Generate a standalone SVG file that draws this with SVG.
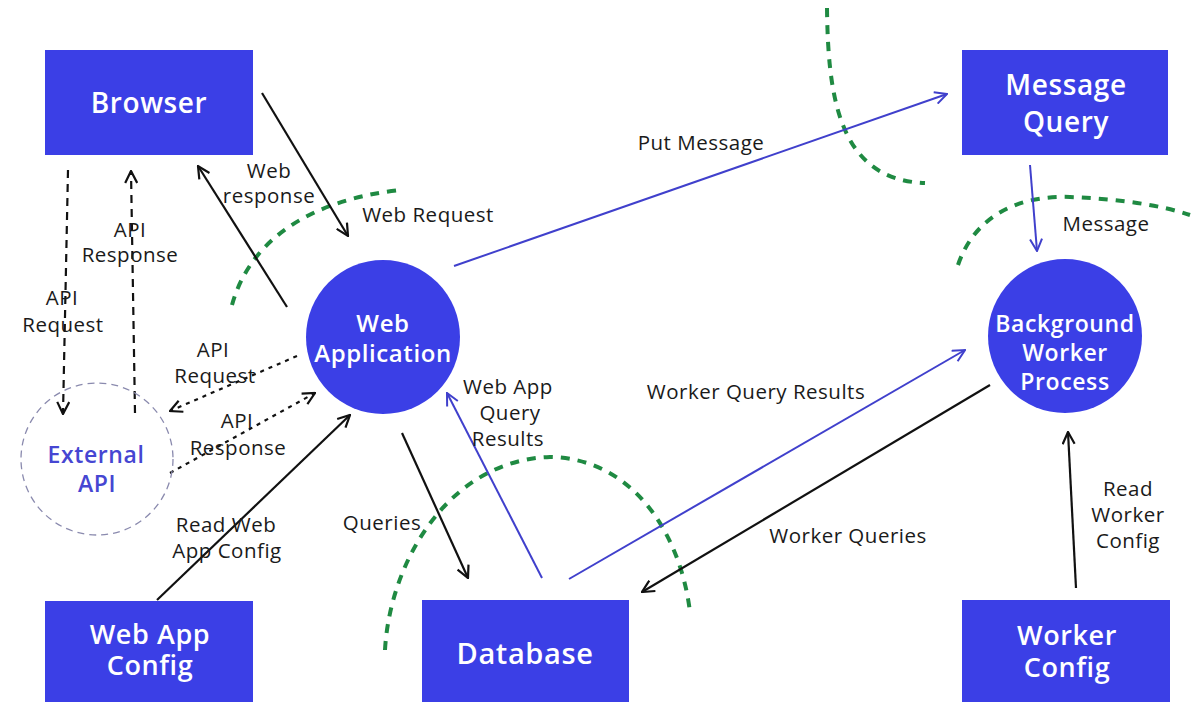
<svg xmlns="http://www.w3.org/2000/svg" width="1196" height="702" viewBox="0 0 1196 702">
  <style>
    .node { fill: #3b3fe6; }
    .nlabel { font-family: "Open Sans", "Liberation Sans", sans-serif; font-weight: 600; fill: #ffffff; text-anchor: middle; letter-spacing: 0.6px; }
    .elabel { font-family: "Open Sans", "Liberation Sans", sans-serif; font-size: 20.5px; fill: #1a1a1a; text-anchor: middle; letter-spacing: 0.5px; }
    .boundary { fill: none; stroke: #1f8a42; stroke-width: 4; stroke-dasharray: 9 8; }
    .black { fill: none; stroke: #111111; stroke-width: 2.2; }
    .blue { fill: none; stroke: #4040cc; stroke-width: 2; }
    .dash { stroke-dasharray: 8 6; }
    .dot { stroke-dasharray: 4 5; }
  </style>
  <defs>
    <marker id="arrowBlack" viewBox="0 0 14 14" refX="13" refY="7" markerWidth="14" markerHeight="14" markerUnits="userSpaceOnUse" orient="auto">
      <path d="M1,1 L13,7 L1,13" fill="none" stroke="#111111" stroke-width="2.2"/>
    </marker>
    <marker id="arrowBlue" viewBox="0 0 14 14" refX="13" refY="7" markerWidth="14" markerHeight="14" markerUnits="userSpaceOnUse" orient="auto">
      <path d="M1,1 L13,7 L1,13" fill="none" stroke="#4040cc" stroke-width="2"/>
    </marker>
  </defs>

  <rect width="1196" height="702" fill="#ffffff"/>

  <!-- trust boundaries -->
  <g id="boundaries">
    <path class="boundary" d="M827,8 C828,100 840,180 925,183"/>
    <path class="boundary" d="M958,265 C975,215 1020,195 1070,197 C1120,199 1160,205 1190,215"/>
    <path class="boundary" d="M232,305 C250,240 310,200 400,190"/>
    <path class="boundary" d="M385,650 C390,560 450,460 550,457 C630,458 680,530 690,612"/>
  </g>

  <!-- connectors -->
  <g id="connectors">
    <line class="black" x1="262" y1="93" x2="348" y2="236" marker-end="url(#arrowBlack)"/>
    <line class="black" x1="287" y1="307" x2="198" y2="166" marker-end="url(#arrowBlack)"/>
    <line class="blue" x1="454" y1="266" x2="947" y2="94" marker-end="url(#arrowBlue)"/>
    <line class="blue" x1="1030" y1="165" x2="1037" y2="251" marker-end="url(#arrowBlue)"/>
    <line class="black dash" x1="68" y1="170" x2="63" y2="414" marker-end="url(#arrowBlack)"/>
    <line class="black dash" x1="135" y1="413" x2="131" y2="171" marker-end="url(#arrowBlack)"/>
    <line class="black dot" x1="297" y1="356" x2="170" y2="411" marker-end="url(#arrowBlack)"/>
    <line class="black dot" x1="170" y1="473" x2="315" y2="393" marker-end="url(#arrowBlack)"/>
    <line class="black" x1="157" y1="600" x2="350" y2="415" marker-end="url(#arrowBlack)"/>
    <line class="black" x1="402" y1="433" x2="468" y2="578" marker-end="url(#arrowBlack)"/>
    <line class="blue" x1="542" y1="578" x2="447" y2="393" marker-end="url(#arrowBlue)"/>
    <line class="blue" x1="569" y1="579" x2="965" y2="350" marker-end="url(#arrowBlue)"/>
    <line class="black" x1="990" y1="385" x2="642" y2="592" marker-end="url(#arrowBlack)"/>
    <line class="black" x1="1076" y1="588" x2="1068" y2="432" marker-end="url(#arrowBlack)"/>
  </g>

  <!-- connector labels -->
  <g id="labels">
    <text class="elabel" x="269" y="178">Web</text>
    <text class="elabel" x="269" y="203">response</text>
    <text class="elabel" x="428" y="222">Web Request</text>
    <text class="elabel" x="701" y="150">Put Message</text>
    <text class="elabel" x="1106" y="231">Message</text>
    <text class="elabel" x="130" y="237">API</text>
    <text class="elabel" x="130" y="262">Response</text>
    <text class="elabel" x="62" y="305">API</text>
    <text class="elabel" x="63" y="332">Request</text>
    <text class="elabel" x="213" y="357">API</text>
    <text class="elabel" x="215" y="383">Request</text>
    <text class="elabel" x="237" y="428">API</text>
    <text class="elabel" x="238" y="455">Response</text>
    <text class="elabel" x="226" y="532">Read Web</text>
    <text class="elabel" x="227" y="558">App Config</text>
    <text class="elabel" x="382" y="530">Queries</text>
    <text class="elabel" x="508" y="394">Web App</text>
    <text class="elabel" x="510" y="420">Query</text>
    <text class="elabel" x="508" y="446">Results</text>
    <text class="elabel" x="756" y="399">Worker Query Results</text>
    <text class="elabel" x="848" y="543">Worker Queries</text>
    <text class="elabel" x="1128" y="496">Read</text>
    <text class="elabel" x="1128" y="522">Worker</text>
    <text class="elabel" x="1128" y="548">Config</text>
  </g>

  <!-- nodes -->
  <g id="browser">
    <rect class="node" x="45" y="50" width="208" height="105"/>
    <text class="nlabel" x="149" y="113" font-size="28" letter-spacing="1.2">Browser</text>
  </g>
  <g id="message-query">
    <rect class="node" x="962" y="50" width="206" height="105"/>
    <text class="nlabel" x="1066" y="95" font-size="28">Message</text>
    <text class="nlabel" x="1066" y="132" font-size="28">Query</text>
  </g>
  <g id="web-application">
    <circle class="node" cx="383" cy="337" r="77"/>
    <text class="nlabel" x="383" y="332" font-size="24">Web</text>
    <text class="nlabel" x="383" y="362" font-size="24">Application</text>
  </g>
  <g id="background-worker">
    <circle class="node" cx="1065" cy="336" r="77"/>
    <text class="nlabel" x="1065" y="332" font-size="23" letter-spacing="1">Background</text>
    <text class="nlabel" x="1065" y="361" font-size="23" letter-spacing="1">Worker</text>
    <text class="nlabel" x="1065" y="390" font-size="23" letter-spacing="1">Process</text>
  </g>
  <g id="external-api">
    <circle cx="97" cy="459" r="76" fill="none" stroke="#8a8aae" stroke-width="1.3" stroke-dasharray="7 5"/>
    <text class="nlabel" x="96" y="463" font-size="23" style="fill:#4646d2">External</text>
    <text class="nlabel" x="97" y="492" font-size="23" style="fill:#4646d2">API</text>
  </g>
  <g id="web-app-config">
    <rect class="node" x="45" y="601" width="208" height="101"/>
    <text class="nlabel" x="150" y="644" font-size="27" letter-spacing="1">Web App</text>
    <text class="nlabel" x="150" y="675" font-size="27" letter-spacing="1">Config</text>
  </g>
  <g id="database">
    <rect class="node" x="422" y="600" width="207" height="102"/>
    <text class="nlabel" x="525" y="664" font-size="29" letter-spacing="1">Database</text>
  </g>
  <g id="worker-config">
    <rect class="node" x="962" y="600" width="208" height="102"/>
    <text class="nlabel" x="1067" y="645" font-size="27" letter-spacing="1">Worker</text>
    <text class="nlabel" x="1067" y="677" font-size="27" letter-spacing="1">Config</text>
  </g>
</svg>
